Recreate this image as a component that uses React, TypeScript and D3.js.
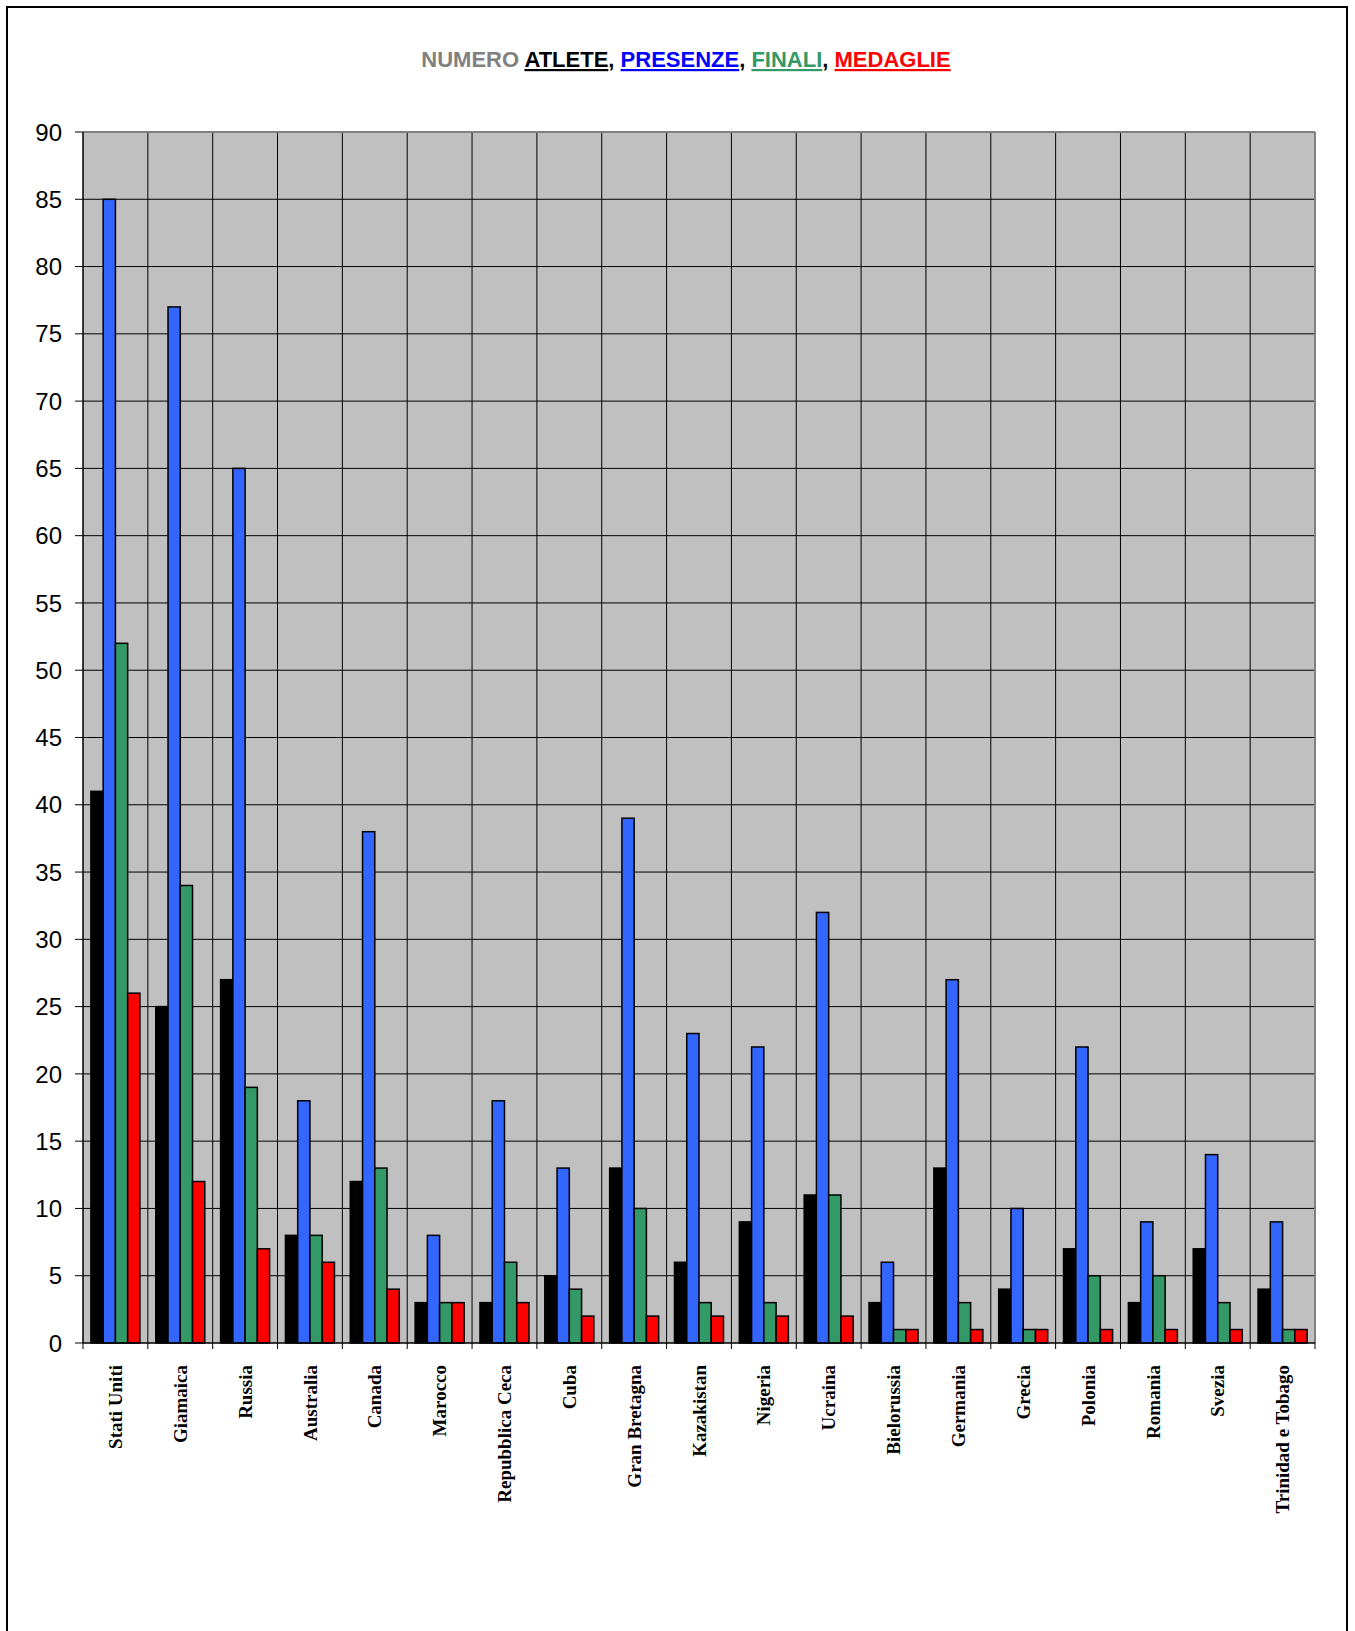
import React from "react";
import * as d3 from "d3";

const categories = [
  "Stati Uniti", "Giamaica", "Russia", "Australia", "Canada", "Marocco",
  "Repubblica Ceca", "Cuba", "Gran Bretagna", "Kazakistan", "Nigeria", "Ucraina",
  "Bielorussia", "Germania", "Grecia", "Polonia", "Romania", "Svezia", "Trinidad e Tobago",
];
const atlete = [41, 25, 27, 8, 12, 3, 3, 5, 13, 6, 9, 11, 3, 13, 4, 7, 3, 7, 4];
const presenze = [85, 77, 65, 18, 38, 8, 18, 13, 39, 23, 22, 32, 6, 27, 10, 22, 9, 14, 9];
const finali = [52, 34, 19, 8, 13, 3, 6, 4, 10, 3, 3, 11, 1, 3, 1, 5, 5, 3, 1];
const medaglie = [26, 12, 7, 6, 4, 3, 3, 2, 2, 2, 2, 2, 1, 1, 1, 1, 1, 1, 1];
const seriesNames = ["ATLETE", "PRESENZE", "FINALI", "MEDAGLIE"];
const seriesColors = ["#000000", "#3366FF", "#339966", "#FF0000"];
const titleColors = ["#000000", "#0000FF", "#339966", "#FF0000"];
const yTicks = d3.range(0, 91, 5);

export default function App() {
  const W = 1355, H = 1631;
  const left = 83, right = 1315, top = 132, bottom = 1343;
  const x = d3.scaleBand<string>().domain(categories).range([left, right]).padding(0);
  const bw = x.bandwidth();
  const inner = d3.scaleBand<string>().domain(seriesNames).range([bw * 0.122, bw * 0.878]).padding(0);
  const y = d3.scaleLinear().domain([0, 90]).range([bottom, top]);
  const allSeries = [atlete, presenze, finali, medaglie];

  return (
    <svg width={W} height={H} style={{ position: "absolute", left: 0, top: 0 }}>
      <rect x={0} y={0} width={W} height={H} fill="#fff" />
      <rect x={7} y={7} width={1340} height={1700} fill="none" stroke="#000" strokeWidth={2} />
      <text x={686} y={67} textAnchor="middle" fontFamily="Liberation Sans, Arial, sans-serif" fontWeight="bold" fontSize={22}>
        <tspan fill="#808080">NUMERO </tspan>
        {seriesNames.map((s, i) => (
          <React.Fragment key={s}>
            <tspan fill={titleColors[i]} textDecoration="underline" style={{ textDecoration: "underline" }}>{s}</tspan>
            {i < seriesNames.length - 1 && <tspan fill="#000">, </tspan>}
          </React.Fragment>
        ))}
      </text>
      <rect x={left} y={top} width={right - left} height={bottom - top} fill="#C0C0C0" />
      {yTicks.filter((t) => t > 0 && t < 90).map((t) => (
        <line key={t} x1={left} x2={right} y1={y(t)} y2={y(t)} stroke="#000" strokeWidth={1} />
      ))}
      {categories.slice(1).map((c) => (
        <line key={c} x1={x(c)!} x2={x(c)!} y1={top} y2={bottom} stroke="#000" strokeWidth={1} />
      ))}
      <line x1={left} x2={right} y1={top} y2={top} stroke="#808080" strokeWidth={2} />
      <line x1={right} x2={right} y1={top} y2={bottom} stroke="#808080" strokeWidth={2} />
      {categories.map((c, ci) =>
        allSeries.map((vals, si) => (
          <rect
            key={c + si}
            x={x(c)! + inner(seriesNames[si])!}
            y={y(vals[ci])}
            width={inner.bandwidth()}
            height={bottom - y(vals[ci])}
            fill={seriesColors[si]}
            stroke="#000"
            strokeWidth={1.5}
          />
        ))
      )}
      <line x1={left} x2={left} y1={top} y2={bottom} stroke="#000" strokeWidth={1.5} />
      <line x1={left} x2={right} y1={bottom} y2={bottom} stroke="#000" strokeWidth={1.5} />
      {yTicks.map((t) => (
        <g key={t}>
          <line x1={75} x2={left} y1={y(t)} y2={y(t)} stroke="#000" strokeWidth={1} />
          <text x={62} y={y(t)} dy="0.36em" textAnchor="end" fontFamily="Liberation Sans, Arial, sans-serif" fontSize={24}>
            {t}
          </text>
        </g>
      ))}
      {[...categories.map((c) => x(c)!), right].map((px, i) => (
        <line key={i} x1={px} x2={px} y1={bottom} y2={bottom + 6} stroke="#000" strokeWidth={1} />
      ))}
      {categories.map((c) => (
        <text
          key={c}
          transform={`translate(${x(c)! + bw / 2},1365) rotate(-90)`}
          dy="0.35em"
          textAnchor="end"
          fontFamily="Liberation Serif, Times New Roman, serif"
          fontWeight="bold"
          fontSize={19}
        >
          {c}
        </text>
      ))}
    </svg>
  );
}
